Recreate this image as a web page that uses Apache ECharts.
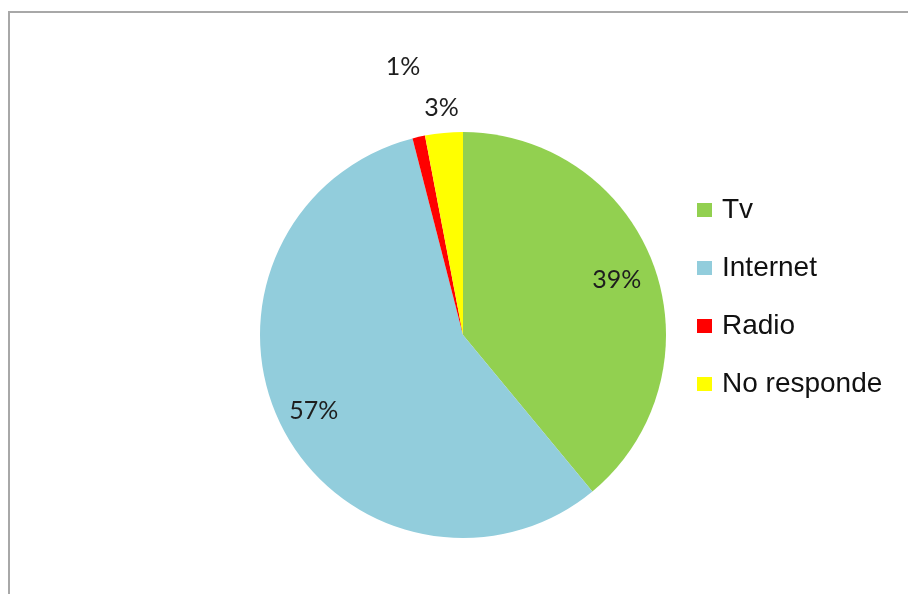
<!DOCTYPE html>
<html>
<head>
<meta charset="utf-8">
<script src="https://cdn.jsdelivr.net/npm/echarts@6/dist/echarts.min.js"></script>
<style>
  html, body { margin: 0; padding: 0; background: #fff; }
  #chart { width: 908px; height: 594px; }
</style>
</head>
<body>
<div id="chart"></div>
<script>
// Medio de información preferido (porcentaje de respuestas)
const categories = ['Tv', 'Internet', 'Radio', 'No responde'];
const shares = [39, 57, 1, 3];
const colors = ['#92D050', '#92CDDC', '#FF0000', '#FFFF00'];

// Pie geometry and where each percentage label sits (as a fraction of the radius)
const CENTER = [463, 335];
const RADIUS = 203;
const labelRadius = [0.79, 0.81, 1.34, 1.11];

const pieData = categories.map((name, i) => ({
  name: name,
  value: shares[i],
  itemStyle: { color: colors[i] }
}));

// One transparent ring per category carries that slice's label at its own distance
const labelSeries = categories.map((name, k) => {
  const mid = RADIUS * labelRadius[k];
  return {
    type: 'pie',
    center: CENTER,
    radius: [mid - 10, mid + 10],
    startAngle: 90,
    clockwise: true,
    silent: true,
    animation: false,
    emphasis: { disabled: true },
    itemStyle: { color: 'rgba(0,0,0,0)', borderWidth: 0 },
    labelLine: { show: false },
    data: categories.map((n, i) => ({
      name: n,
      value: shares[i],
      label: {
        show: i === k,
        position: 'inside',
        formatter: '{c}%',
        color: '#1e1e1e',
        fontFamily: 'Lato',
        fontSize: 25
      }
    }))
  };
});

const chart = echarts.init(document.getElementById('chart'), null, { renderer: 'canvas' });
chart.setOption({
  animation: false,
  backgroundColor: '#ffffff',
  graphic: [{
    type: 'rect',
    shape: { x: 9, y: 12, width: 1200, height: 1200 },
    style: { fill: 'none', stroke: '#a8a8a8', lineWidth: 2 },
    silent: true,
    z: -10
  }],
  legend: {
    orient: 'vertical',
    left: 692,
    top: 191,
    itemWidth: 15,
    itemHeight: 14,
    itemGap: 30,
    icon: 'rect',
    selectedMode: false,
    data: categories,
    textStyle: {
      fontFamily: 'Liberation Sans',
      fontSize: 28,
      lineHeight: 28,
      color: '#111',
      padding: [0, 0, 0, 5]
    }
  },
  series: [{
    type: 'pie',
    center: CENTER,
    radius: RADIUS,
    startAngle: 90,
    clockwise: true,
    silent: true,
    emphasis: { disabled: true },
    label: { show: false },
    labelLine: { show: false },
    data: pieData
  }].concat(labelSeries)
});
</script>
</body>
</html>
